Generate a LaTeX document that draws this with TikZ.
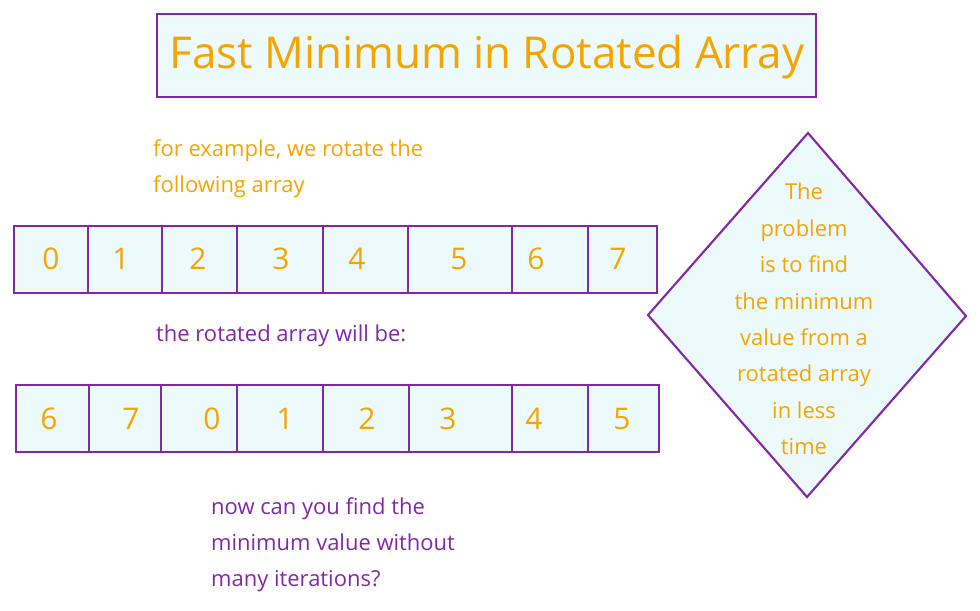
\documentclass[tikz,border=0pt]{standalone}
\usepackage{fontspec}
\setmainfont{Open Sans}
\definecolor{cpurple}{RGB}{130,40,165}
\definecolor{corange}{RGB}{245,165,0}
\definecolor{ccyan}{RGB}{236,250,252}
\tikzset{sketch/.style={x=0.02cm,y=-0.02cm}}
\tikzset{cellbox/.style={draw=cpurple,fill=ccyan,line width=1.2pt},
         digit/.style={corange,font=\fontsize{17}{17}\selectfont},
         note/.style={anchor=west,align=left,font=\fontsize{12.5}{20.5}\selectfont}}

\begin{document}
\begin{tikzpicture}[sketch]
    \useasboundingbox (0,0) rectangle (980,611);
    % title
    \draw[cellbox] (157,14) rectangle (816,97);
    \node[corange,font=\fontsize{25}{25}\selectfont] (title) at (487,57) {Fast Minimum in Rotated Array};
    % first array
    \node[note,corange] (intro) at (147,169) {for example, we rotate the\\following array};
    \foreach \l/\r/\x/\v in {14/88/51/0,88/162/121/1,162/237/198/2,237/323/281/3,
                             323/408/357/4,408/512/459/5,512/588/536/6,588/657/618/7}
      {\draw[cellbox] (\l,226) rectangle (\r,293);
       \node[digit] (a\v) at (\x,259) {\v};}
    % rotated array
    \node[note,cpurple] (rot) at (150,336) {the rotated array will be:};
    \foreach \l/\r/\x/\v in {16/89/49/6,89/161/131/7,161/237/212/0,237/323/285/1,
                             323/409/367/2,409/512/448/3,512/588/534/4,588/659/622/5}
      {\draw[cellbox] (\l,385) rectangle (\r,452);
       \node[digit] (b\v) at (\x,419) {\v};}
    \node[note,cpurple] (ask) at (205,545) {now can you find the\\minimum value without\\many iterations?};
    % problem statement
    \draw[cellbox] (808,133) -- (966,316) -- (807,497) -- (648,315) -- cycle;
    \node[corange,align=center,font=\fontsize{12.5}{20.7}\selectfont] (goal) at (804,319)
      {The\\problem\\is to find\\the minimum\\value from a\\rotated array\\in less\\time};
\end{tikzpicture}
\end{document}
